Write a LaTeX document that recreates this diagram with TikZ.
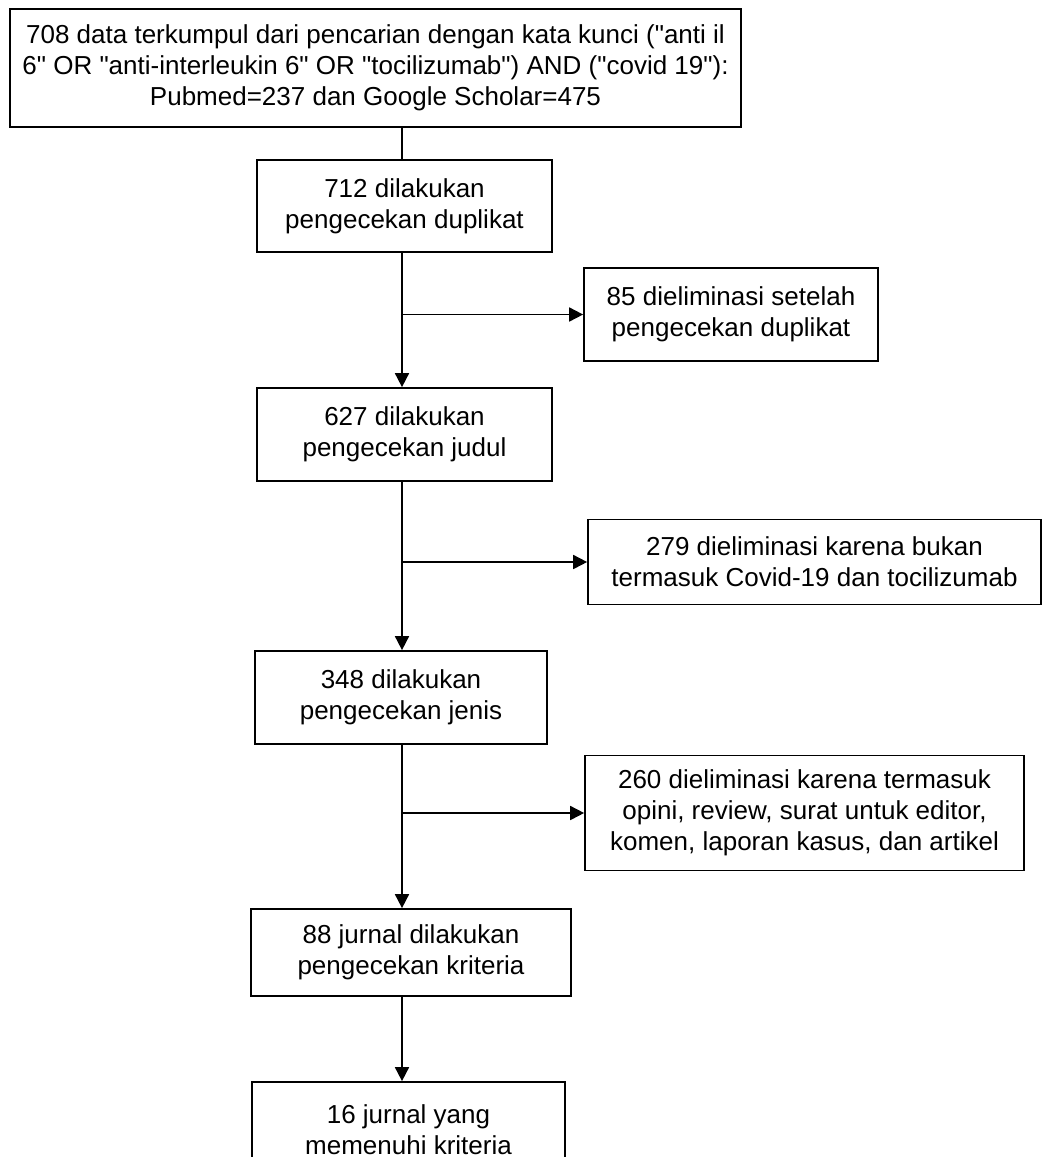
\documentclass[tikz,border=0pt]{standalone}
\usepackage{fontspec}
\setmainfont{Liberation Sans}[Ligatures=TeXOff]
\usetikzlibrary{arrows.meta}

\begin{document}
\begin{tikzpicture}[x=0.02cm, y=-0.02cm,
  flowbox/.style={draw, line width=1pt, align=center, inner sep=0pt,
    font=\fontsize{14.8}{17.5}\selectfont},
  arr/.style={-{Triangle[length=0.28cm, width=0.28cm]}, line width=1pt}]
% page size
\useasboundingbox (0,0) rectangle (1043,1157);
\coordinate (spine) at (402,0);

% Main column
\node[flowbox, minimum width=14.62cm, minimum height=2.36cm] (cari) at (375.5,68)
  {708 data terkumpul dari pencarian dengan kata kunci ("anti il\\
   6" OR "anti-interleukin 6" OR "tocilizumab") AND ("covid 19"):\\
   Pubmed=237 dan Google Scholar=475};
\node[flowbox, minimum width=5.9cm, minimum height=1.84cm] (duplikat) at (404.5,206)
  {712 dilakukan\\ pengecekan duplikat};
\node[flowbox, minimum width=5.9cm, minimum height=1.86cm] (judul) at (404.5,434.5)
  {627 dilakukan\\ pengecekan judul};
\node[flowbox, minimum width=5.84cm, minimum height=1.86cm] (jenis) at (401,697.5)
  {348 dilakukan\\ pengecekan jenis};
\node[flowbox, minimum width=6.4cm, minimum height=1.74cm] (kriteria) at (411,952.5)
  {88 jurnal dilakukan\\ pengecekan kriteria};
\node[flowbox, minimum width=6.26cm, minimum height=1.92cm] (hasil) at (408.5,1130)
  {16 jurnal yang\\ memenuhi kriteria};

% Eliminated records
\node[flowbox, minimum width=5.88cm, minimum height=1.86cm] (elim1) at (731,314.5)
  {85 dieliminasi setelah\\ pengecekan duplikat};
\node[flowbox, minimum width=9.06cm, minimum height=1.7cm] (elim2) at (814.5,562)
  {279 dieliminasi karena bukan\\ termasuk Covid-19 dan tocilizumab};
\node[flowbox, minimum width=8.78cm, minimum height=2.3cm] (elim3) at (804.5,813)
  {260 dieliminasi karena termasuk\\ opini, review, surat untuk editor,\\ komen, laporan kasus, dan artikel};

% Connectors
\draw[line width=1pt] (cari.south -| spine) -- (duplikat.north -| spine);
\draw[arr] (duplikat.south -| spine) -- (judul.north -| spine);
\draw[arr] (judul.south -| spine) -- (jenis.north -| spine);
\draw[arr] (jenis.south -| spine) -- (kriteria.north -| spine);
\draw[arr] (kriteria.south -| spine) -- (hasil.north -| spine);
\draw[arr] (elim1.west -| spine) -- (elim1.west);
\draw[arr] (elim2.west -| spine) -- (elim2.west);
\draw[arr] (elim3.west -| spine) -- (elim3.west);
\end{tikzpicture}
\end{document}
